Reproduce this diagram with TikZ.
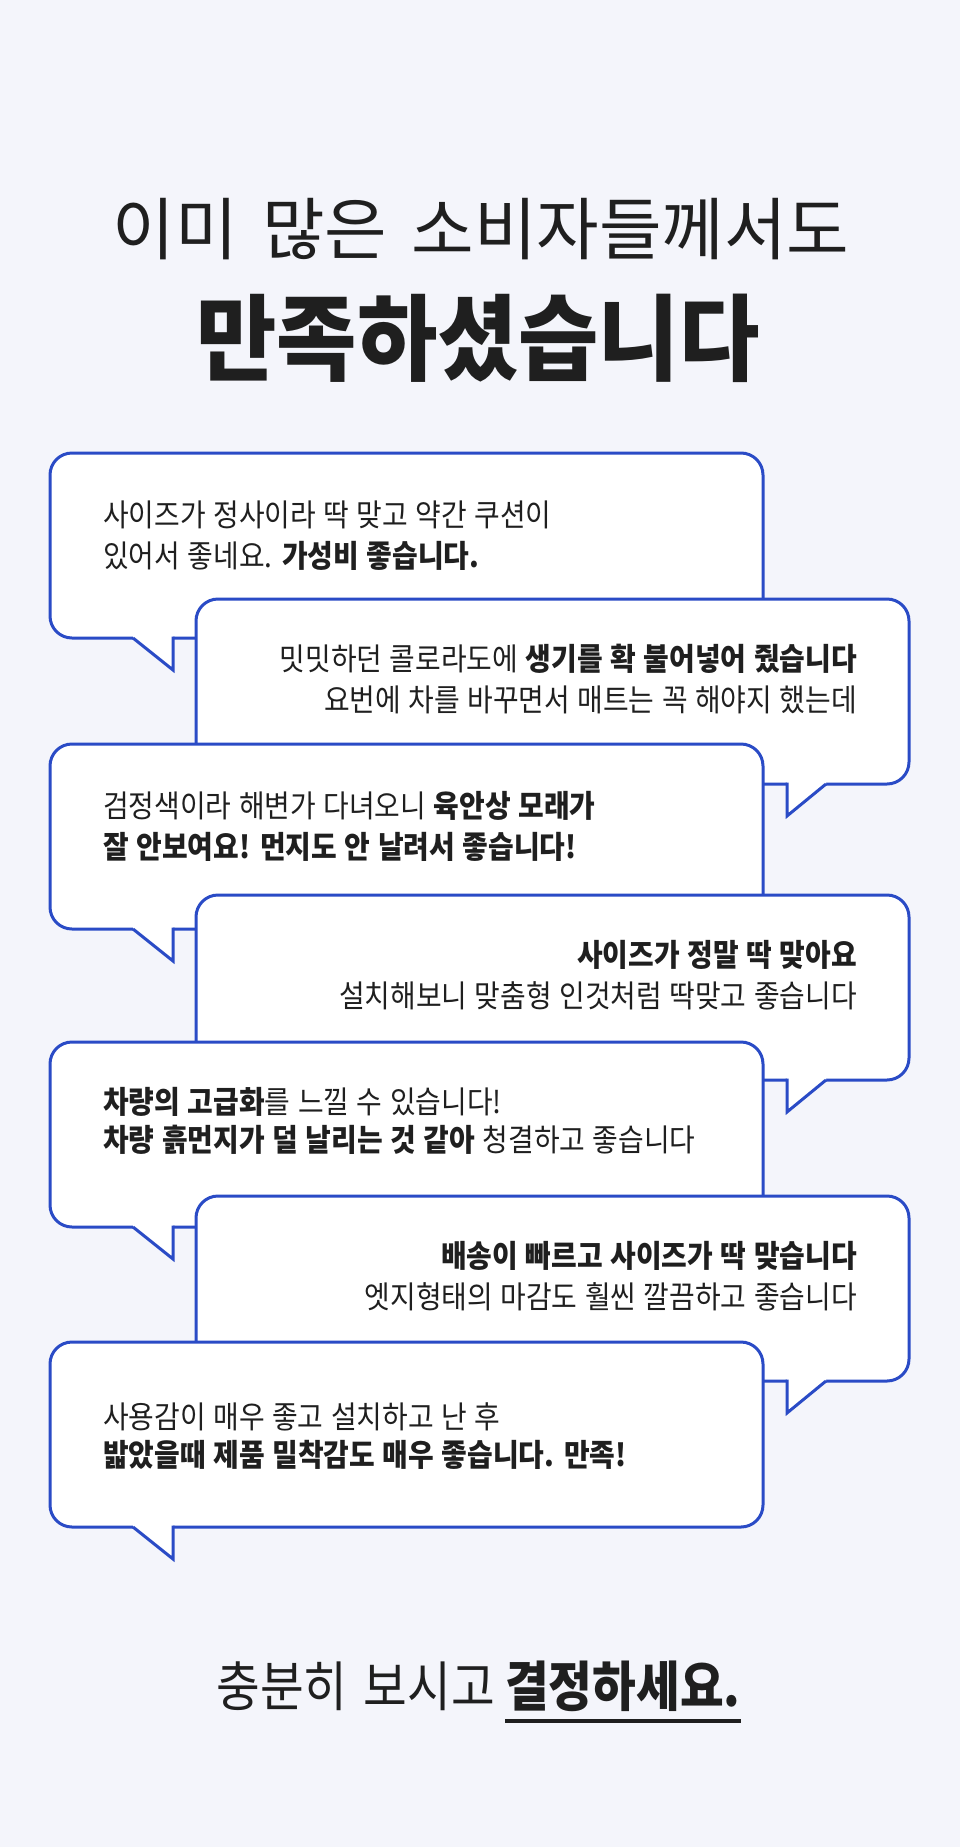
\documentclass[tikz,border=0pt]{standalone}
\usepackage{fontspec}
\usetikzlibrary{positioning}
\newfontfamily\krfont[FakeStretch=0.9,WordSpace=1.2]{Noto Sans CJK KR}
\newfontfamily\krtitle[FakeStretch=1.0,WordSpace=1.6]{Noto Sans CJK KR}
\newfontfamily\krhead[FakeStretch=0.93]{Noto Sans CJK KR}
\newfontfamily\krfoot[FakeStretch=0.88,WordSpace=1.5]{Noto Sans CJK KR}
\definecolor{bgpale}{RGB}{244,245,251}
\definecolor{bubbleblue}{RGB}{42,75,198}
\definecolor{inkgray}{RGB}{31,31,31}

\begin{document}
\begin{tikzpicture}[x=1pt,y=-1pt,line join=miter,
  bubble/.style={draw=bubbleblue,fill=white,line width=3pt,rounded corners=22pt},
  tailline/.style={draw=bubbleblue,line width=3pt},
  saysl/.style={anchor=west,inner sep=0pt,text=inkgray,font=\krfont\fontsize{31}{31}\selectfont},
  saysr/.style={saysl,anchor=east},
  foot/.style={inner sep=0pt,text=inkgray,font=\krfoot\fontsize{54}{54}\selectfont}]
\fill[bgpale] (0,0) rectangle (960,1847);
\useasboundingbox (0,0) rectangle (960,1847);

% heading
\node[inner sep=0pt,text=inkgray,font=\krtitle\fontsize{68}{68}\selectfont] (head1) at (481,229) {이미 많은 소비자들께서도};
\node[inner sep=0pt,text=inkgray,font=\krhead\bfseries\fontsize{94}{94}\selectfont] (head2) at (478,338) {만족하셨습니다};

% speech bubbles: top / left x / tail start / tail stem
\foreach \tp/\xa/\ta/\tv in {453/50/133/173, 599/196/826/787, 744/50/133/173, 895/196/826/787, 1042/50/133/173, 1196/196/826/787, 1342/50/133/173}{
  \draw[bubble] (\xa,\tp) rectangle ({\xa+713},{\tp+185});
  \fill[white] (\ta,{\tp+182}) -- (\ta,{\tp+185}) -- (\tv,{\tp+217}) -- (\tv,{\tp+182}) -- cycle;
  \draw[tailline] (\ta,{\tp+185}) -- (\tv,{\tp+217}) -- (\tv,{\tp+183.5});
}

\node[saysl] (say1a) at (103,515) {사이즈가 정사이라 딱 맞고 약간 쿠션이};
\node[saysl] (say1b) at (103,556) {있어서 좋네요. \textbf{가성비 좋습니다.}};
\node[saysr] (say2a) at (857,659) {밋밋하던 콜로라도에 \textbf{생기를 확 불어넣어 줬습니다}};
\node[saysr] (say2b) at (857,700) {요번에 차를 바꾸면서 매트는 꼭 해야지 했는데};
\node[saysl] (say3a) at (103,806) {검정색이라 해변가 다녀오니 \textbf{육안상 모래가}};
\node[saysl] (say3b) at (103,847) {\textbf{잘 안보여요! 먼지도 안 날려서 좋습니다!}};
\node[saysr] (say4a) at (857,955) {\textbf{사이즈가 정말 딱 맞아요}};
\node[saysr] (say4b) at (857,996) {설치해보니 맞춤형 인것처럼 딱맞고 좋습니다};
\node[saysl] (say5a) at (103,1102) {\textbf{차량의 고급화}를 느낄 수 있습니다!};
\node[saysl] (say5b) at (103,1140) {\textbf{차량 흙먼지가 덜 날리는 것 같아} 청결하고 좋습니다};
\node[saysr] (say6a) at (857,1256) {\textbf{배송이 빠르고 사이즈가 딱 맞습니다}};
\node[saysr] (say6b) at (857,1297) {엣지형태의 마감도 훨씬 깔끔하고 좋습니다};
\node[saysl] (say7a) at (103,1417) {사용감이 매우 좋고 설치하고 난 후};
\node[saysl] (say7b) at (103,1455) {\textbf{밟았을때 제품 밀착감도 매우 좋습니다. 만족!}};

% closing line
\node[foot,anchor=west] (footend) at (505,1686) {\bfseries 결정하세요.};
\node[foot,left=10pt of footend.base west,anchor=base east] (footlead) {충분히 보시고};
\draw[inkgray,line width=4pt] ([yshift=-9pt]footend.south west) -- ([yshift=-9pt]footend.south east);
\end{tikzpicture}
\end{document}
